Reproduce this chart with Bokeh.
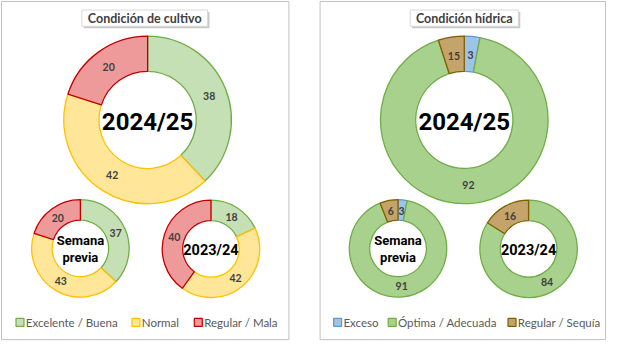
import numpy as np
from bokeh.plotting import figure
from bokeh.models import ColumnDataSource, Range1d
from bokeh.core.properties import value
from bokeh.embed import file_html
from bokeh.resources import INLINE

# ---------------- data ----------------
cultivo_cats = ["Excelente / Buena", "Normal", "Regular / Mala"]
cultivo_2425 = [38, 42, 20]
cultivo_prev = [37, 43, 20]
cultivo_2324 = [18, 42, 40]

hidrica_cats = ["Exceso", "Óptima / Adecuada", "Regular / Sequía"]
hidrica_2425 = [3, 92, 5]            # slice sizes as drawn
hidrica_2425_labels = ["3", "92", "15"]  # labels as printed
hidrica_prev = [3, 91, 6]
hidrica_2324 = [0, 84, 16]

titles = ["Condición de cultivo", "Condición hídrica"]
centre_texts = ["2024/25", "Semana\nprevia", "2023/24"]

# ---------------- styles ----------------
cult_fill = ["#c5e0b4", "#ffe699", "#ef9a9a"]
cult_line = ["#70ad47", "#ffc000", "#c00000"]
hid_fill = ["#9dc3e6", "#a9d18e", "#c4a46b"]
hid_line = ["#5b9bd5", "#70ad47", "#7f6000"]

W, H = 623, 358
FONT = "Lato"
CFONT = "Roboto"

p = figure(width=607, height=342, output_backend="svg", toolbar_location=None,
           x_range=Range1d(0, W), y_range=Range1d(0, H), min_border=0)
p.axis.visible = False
p.grid.visible = False
p.outline_line_color = None
p.background_fill_color = "white"


def Y(y):
    return H - y


def donut(cx, cy, r, vals, fills, lines, labels=None):
    vals = np.array(vals, dtype=float)
    frac = vals / vals.sum()
    ends = np.cumsum(frac)
    starts = ends - frac
    keep = vals > 0
    if labels is None:
        labels = [str(int(v)) for v in vals]
    src = ColumnDataSource(dict(
        start=(np.pi / 2 - 2 * np.pi * ends)[keep],
        end=(np.pi / 2 - 2 * np.pi * starts)[keep],
        fill=np.array(fills)[keep], line=np.array(lines)[keep]))
    p.annular_wedge(x=cx, y=Y(cy), inner_radius=r * 0.58, outer_radius=r,
                    start_angle="start", end_angle="end", source=src,
                    fill_color="fill", line_color="line", line_width=1.3)
    mid = (np.pi / 2 - 2 * np.pi * (starts + ends) / 2)[keep]
    rm = r * 0.79
    lsrc = ColumnDataSource(dict(x=cx + rm * np.cos(mid), y=Y(cy) + rm * np.sin(mid),
                                 t=np.array(labels)[keep]))
    p.text(x="x", y="y", text="t", source=lsrc, text_align="center",
           text_baseline="middle", text_font=value(FONT), text_font_style="bold",
           text_font_size="10.5px", text_color="#404040")


def centre(cx, cy, t, size):
    p.text(x=[cx], y=[Y(cy)], text=[t], text_align="center", text_baseline="middle",
           text_font=value(CFONT), text_font_style="bold", text_font_size=size,
           text_color="black", text_line_height=1.15)


# panel borders
p.quad(left=[1, 328], right=[296, 621], top=[Y(1), Y(1)], bottom=[Y(355), Y(355)],
       fill_color=None, line_color="#c0c0c0", line_width=1)

# title boxes
for cx, w, t in [(148, 129, titles[0]), (476, 111, titles[1])]:
    p.quad(left=[cx - w / 2 + 2], right=[cx + w / 2 + 2], top=[Y(12)], bottom=[Y(29)],
           fill_color="#b0b0b0", line_color=None, fill_alpha=0.7)
    p.quad(left=[cx - w / 2], right=[cx + w / 2], top=[Y(10)], bottom=[Y(27)],
           fill_color="white", line_color="#d9d9d9")
    p.text(x=[cx], y=[Y(18.5)], text=[t], text_align="center", text_baseline="middle",
           text_font=value(FONT), text_font_style="bold", text_font_size="12.5px",
           text_color="#404040")

# left donuts
donut(151, 125, 86, cultivo_2425, cult_fill, cult_line)
donut(82, 259.5, 50, cultivo_prev, cult_fill, cult_line)
donut(216, 260, 50, cultivo_2324, cult_fill, cult_line)
# right donuts
donut(476, 125, 86, hidrica_2425, hid_fill, hid_line, labels=hidrica_2425_labels)
donut(408, 259.5, 50, hidrica_prev, hid_fill, hid_line)
donut(542, 260, 50, hidrica_2324, hid_fill, hid_line)

centre(151, 127, centre_texts[0], "24px")
centre(476, 127, centre_texts[0], "24px")
centre(82, 260, centre_texts[1], "13px")
centre(408, 260, centre_texts[1], "13px")
centre(216, 262, centre_texts[2], "14.5px")
centre(542, 262, centre_texts[2], "14.5px")

# legends
def legend(xs_sq, xs_txt, cats, fills, lines):
    p.scatter(x=xs_sq, y=[Y(337)] * len(cats), marker="square", size=8,
              fill_color=fills, line_color=lines, line_width=1.2)
    p.text(x=xs_txt, y=[Y(337.5)] * len(cats), text=cats, text_baseline="middle",
           text_font=value(FONT), text_font_size="11.5px", text_color="#595959")

legend([20, 139, 203], [26, 145, 209], cultivo_cats, cult_fill, cult_line)
legend([346, 402, 525], [352, 408, 531], hidrica_cats, hid_fill, hid_line)

open("out.html", "w").write(file_html(p, INLINE))
